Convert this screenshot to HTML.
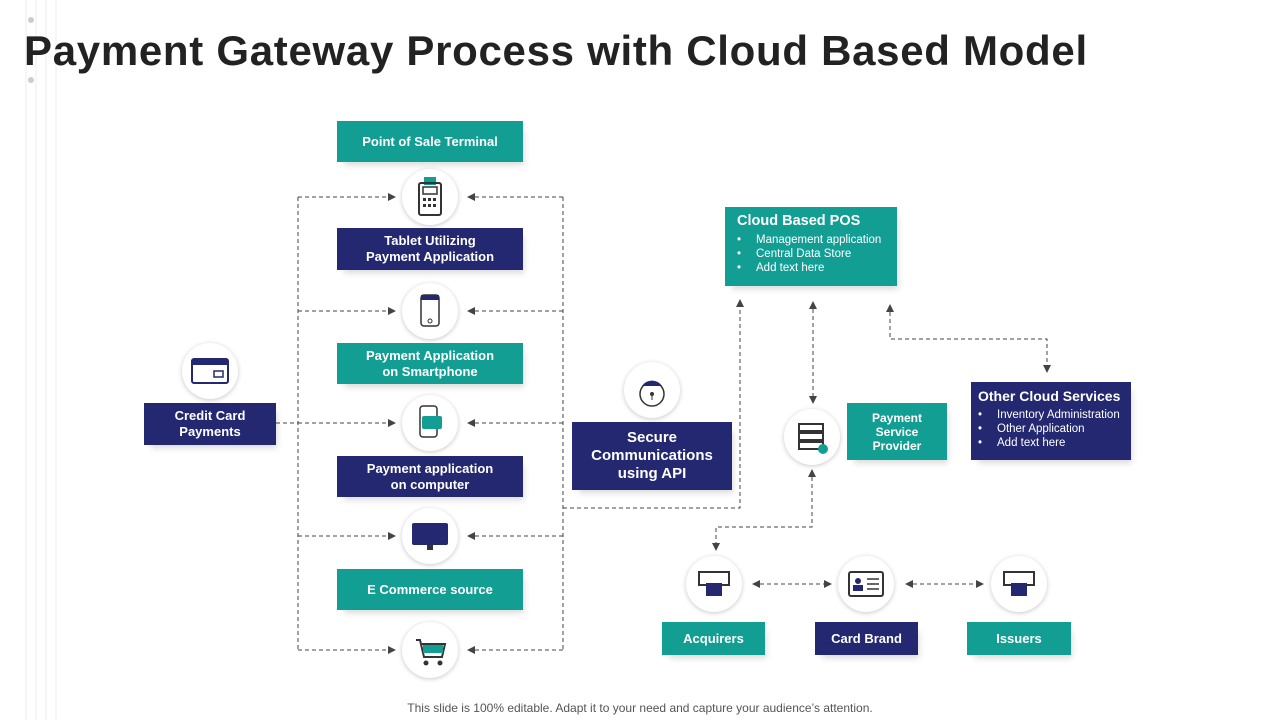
<!DOCTYPE html>
<html><head><meta charset="utf-8"><style>
body{margin:0;width:1280px;height:720px;background:#fff;position:relative;overflow:hidden;font-family:"Liberation Sans",sans-serif}
.b{position:absolute;box-sizing:border-box;color:#fff;font-weight:bold;font-size:13px;display:flex;align-items:center;justify-content:center;text-align:center;line-height:16px;box-shadow:4px 6px 6px -3px rgba(0,0,0,.15)}
.t{background:#139e94}.n{background:#232870}
.c{position:absolute;width:56px;height:56px;border-radius:50%;background:#fff;box-shadow:0 1px 5px rgba(0,0,0,.22)}
h1{position:absolute;left:24px;top:27px;margin:0;font-size:42px;color:#222;font-weight:bold;letter-spacing:0.7px;white-space:nowrap}
.l{display:block;text-align:left;padding:6px 10px 6px 12px}
.l b{font-size:14.5px;display:block;margin-bottom:4px;white-space:nowrap}
.l div{font-weight:normal;font-size:11.5px;line-height:14px;white-space:nowrap;padding-left:0}
.l div span{display:inline-block;width:19px;padding-left:0}
</style></head><body>
<svg width="1280" height="720" style="position:absolute;left:0;top:0">
<g stroke="#eee"><line x1="26" y1="0" x2="26" y2="720"/><line x1="36" y1="0" x2="36" y2="720"/><line x1="46" y1="0" x2="46" y2="720"/><line x1="56" y1="0" x2="56" y2="720"/></g>
<circle cx="31" cy="20" r="3" fill="#ccc"/><circle cx="31" cy="80" r="3" fill="#ccc"/>
<defs><marker id="a" markerWidth="8" markerHeight="8" refX="7" refY="4" orient="auto-start-reverse"><path d="M0,0 L8,4 L0,8 z" fill="#444"/></marker></defs>
<g stroke="#444" stroke-dasharray="4,3" fill="none" stroke-width="1">
<line x1="298" y1="197" x2="298" y2="650"/><line x1="563" y1="197" x2="563" y2="650"/>
<line x1="298" y1="197" x2="395" y2="197" marker-end="url(#a)"/><line x1="298" y1="311" x2="395" y2="311" marker-end="url(#a)"/><line x1="298" y1="423" x2="395" y2="423" marker-end="url(#a)"/><line x1="298" y1="536" x2="395" y2="536" marker-end="url(#a)"/><line x1="298" y1="650" x2="395" y2="650" marker-end="url(#a)"/>
<line x1="563" y1="197" x2="468" y2="197" marker-end="url(#a)"/><line x1="563" y1="311" x2="468" y2="311" marker-end="url(#a)"/><line x1="563" y1="423" x2="468" y2="423" marker-end="url(#a)"/><line x1="563" y1="536" x2="468" y2="536" marker-end="url(#a)"/><line x1="563" y1="650" x2="468" y2="650" marker-end="url(#a)"/>
<line x1="276" y1="423" x2="298" y2="423"/>
<polyline points="563,508 740,508 740,300" marker-end="url(#a)"/>
<line x1="813" y1="302" x2="813" y2="403" marker-start="url(#a)" marker-end="url(#a)"/>
<polyline points="890,305 890,339 1047,339 1047,372" marker-start="url(#a)" marker-end="url(#a)"/>
<polyline points="812,470 812,527 716,527 716,550" marker-start="url(#a)" marker-end="url(#a)"/>
<line x1="753" y1="584" x2="831" y2="584" marker-start="url(#a)" marker-end="url(#a)"/>
<line x1="906" y1="584" x2="983" y2="584" marker-start="url(#a)" marker-end="url(#a)"/>
</g></svg>
<h1>Payment Gateway Process with Cloud Based Model</h1>
<div class="b t" style="left:337px;top:121px;width:186px;height:41px">Point of Sale Terminal</div>
<div class="b n" style="left:337px;top:228px;width:186px;height:42px">Tablet Utilizing<br>Payment Application</div>
<div class="b t" style="left:337px;top:343px;width:186px;height:41px">Payment Application<br>on Smartphone</div>
<div class="b n" style="left:337px;top:456px;width:186px;height:41px">Payment application<br>on computer</div>
<div class="b t" style="left:337px;top:569px;width:186px;height:41px">E Commerce source</div>
<div class="b n" style="left:144px;top:403px;width:132px;height:42px">Credit Card<br>Payments</div>
<div class="b n" style="left:572px;top:422px;width:160px;height:68px;font-size:15px;line-height:18px">Secure<br>Communications<br>using API</div>
<div class="b t l" style="left:725px;top:207px;width:172px;height:79px"><b>Cloud Based POS</b><div><span>•</span>Management application</div><div><span>•</span>Central Data Store</div><div><span>•</span>Add text here</div></div>
<div class="b n l" style="left:971px;top:382px;width:160px;height:78px;padding-left:7px"><b style="font-size:14px">Other Cloud Services</b><div><span>•</span>Inventory Administration</div><div><span>•</span>Other Application</div><div><span>•</span>Add text here</div></div>
<div class="b t" style="left:847px;top:403px;width:100px;height:57px;font-size:12px;line-height:14px">Payment<br>Service<br>Provider</div>
<div class="b t" style="left:662px;top:622px;width:103px;height:33px">Acquirers</div>
<div class="b n" style="left:815px;top:622px;width:103px;height:33px">Card Brand</div>
<div class="b t" style="left:967px;top:622px;width:104px;height:33px">Issuers</div>
<div class="c" style="left:402px;top:169px"><svg width="56" height="56"><rect x="22" y="8" width="12" height="8" fill="#139e94"/><rect x="17" y="14" width="22" height="32" rx="2" fill="none" stroke="#333" stroke-width="2"/><rect x="21" y="18" width="14" height="7" fill="none" stroke="#333" stroke-width="1.5"/><g fill="#333"><rect x="21" y="29" width="3" height="3"/><rect x="26" y="29" width="3" height="3"/><rect x="31" y="29" width="3" height="3"/><rect x="21" y="35" width="3" height="3"/><rect x="26" y="35" width="3" height="3"/><rect x="31" y="35" width="3" height="3"/></g></svg></div>
<div class="c" style="left:402px;top:283px"><svg width="56" height="56"><rect x="19" y="12" width="18" height="31" rx="3" fill="none" stroke="#333" stroke-width="1.5"/><rect x="19" y="12" width="18" height="5" fill="#232870"/><circle cx="28" cy="38" r="2" fill="none" stroke="#333"/></svg></div>
<div class="c" style="left:402px;top:395px"><svg width="56" height="56"><rect x="18" y="11" width="17" height="31" rx="3" fill="none" stroke="#333" stroke-width="1.5"/><rect x="20" y="21" width="20" height="13" rx="2" fill="#139e94"/></svg></div>
<div class="c" style="left:402px;top:508px"><svg width="56" height="56"><rect x="10" y="15" width="36" height="22" rx="2" fill="#232870"/><rect x="25" y="37" width="6" height="5" fill="#333"/></svg></div>
<div class="c" style="left:402px;top:622px"><svg width="56" height="56"><path d="M14 18 L18 18 L22 35 L40 35 L43 22 L20 22" fill="none" stroke="#333" stroke-width="2"/><rect x="21" y="23" width="20" height="8" fill="#139e94"/><circle cx="24" cy="41" r="2.5" fill="#333"/><circle cx="38" cy="41" r="2.5" fill="#333"/></svg></div>
<div class="c" style="left:182px;top:343px"><svg width="56" height="56"><rect x="10" y="16" width="36" height="24" rx="2" fill="none" stroke="#232870" stroke-width="2"/><rect x="10" y="16" width="36" height="6" fill="#232870"/><rect x="32" y="28" width="9" height="6" fill="none" stroke="#232870" stroke-width="1.5"/></svg></div>
<div class="c" style="left:624px;top:362px"><svg width="56" height="56"><circle cx="28" cy="32" r="12" fill="none" stroke="#333" stroke-width="1.5"/><path d="M18 24 A12 12 0 0 1 38 24 Z" fill="#232870"/><circle cx="28" cy="32" r="2" fill="#333"/><line x1="28" y1="33" x2="28" y2="38" stroke="#333"/></svg></div>
<div class="c" style="left:784px;top:409px"><svg width="56" height="56"><g fill="none" stroke="#333" stroke-width="2"><rect x="15" y="15" width="24" height="7"/><rect x="15" y="24" width="24" height="7"/><rect x="15" y="33" width="24" height="7"/></g><circle cx="39" cy="40" r="5" fill="#139e94"/></svg></div>
<div class="c" style="left:686px;top:556px"><svg width="56" height="56"><rect x="13" y="16" width="30" height="13" fill="none" stroke="#333" stroke-width="2"/><rect x="20" y="27" width="16" height="13" fill="#232870"/></svg></div>
<div class="c" style="left:838px;top:556px"><svg width="56" height="56"><rect x="11" y="16" width="34" height="24" rx="2" fill="none" stroke="#333" stroke-width="2"/><circle cx="20" cy="25" r="3" fill="#232870"/><rect x="15" y="29" width="10" height="6" fill="#232870"/><g stroke="#333" stroke-width="1.5"><line x1="29" y1="23" x2="41" y2="23"/><line x1="29" y1="28" x2="41" y2="28"/><line x1="29" y1="33" x2="41" y2="33"/></g></svg></div>
<div class="c" style="left:991px;top:556px"><svg width="56" height="56"><rect x="13" y="16" width="30" height="13" fill="none" stroke="#333" stroke-width="2"/><rect x="20" y="27" width="16" height="13" fill="#232870"/></svg></div>
<div style="position:absolute;left:0;width:1280px;top:701px;text-align:center;font-size:12px;color:#555">This slide is 100% editable. Adapt it to your need and capture your audience’s attention.</div>
</body></html>
